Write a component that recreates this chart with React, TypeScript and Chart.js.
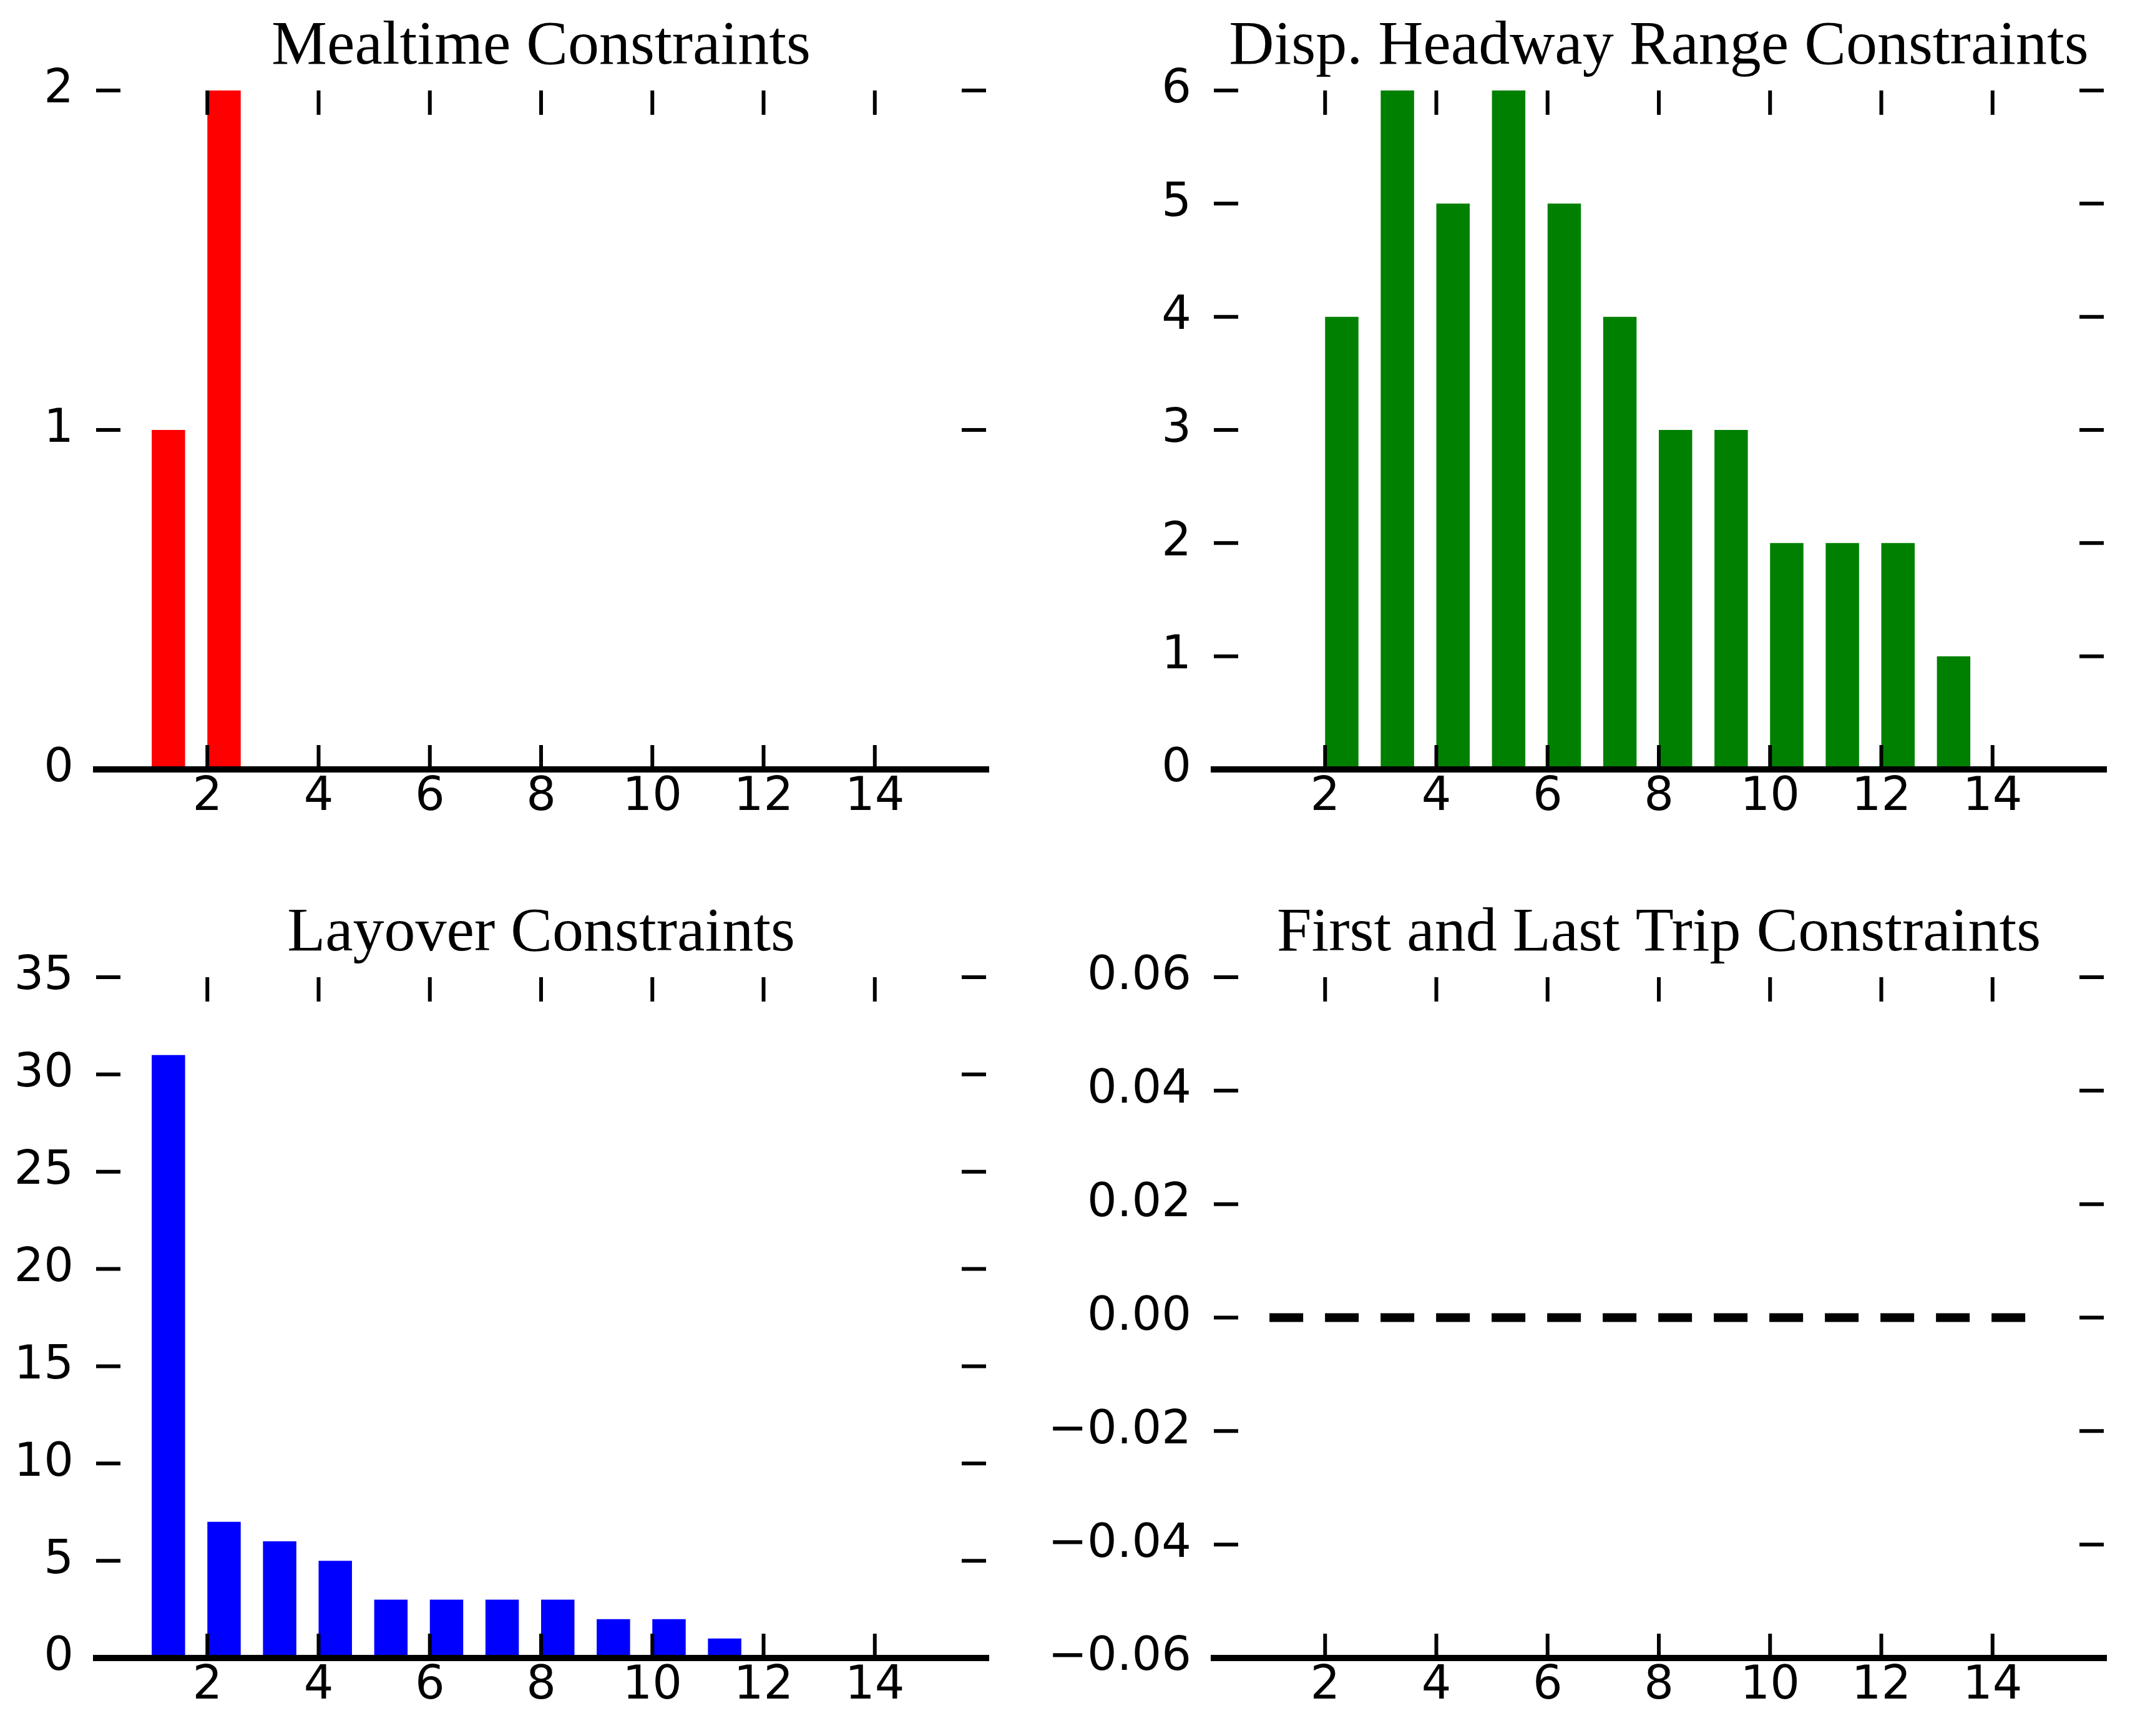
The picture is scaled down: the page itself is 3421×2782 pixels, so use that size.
import React, { useEffect, useRef } from "react";
import { Chart, registerables } from "chart.js";

Chart.register(...registerables);

// ---------------- data ----------------
const binWidth = 0.6;
const xTickValues = [2, 4, 6, 8, 10, 12, 14];
const xMin = 0;
const xMax = 16;

const mealtimeBins = [1, 2];
const mealtimeCounts = [1, 2];
const mealtimeYTicks = [0, 1, 2];

const headwayBins = [2, 3, 4, 5, 6, 7, 8, 9, 10, 11, 12, 13];
const headwayCounts = [4, 6, 5, 6, 5, 4, 3, 3, 2, 2, 2, 1];
const headwayYTicks = [0, 1, 2, 3, 4, 5, 6];

const layoverBins = [1, 2, 3, 4, 5, 6, 7, 8, 9, 10, 11];
const layoverCounts = [31, 7, 6, 5, 3, 3, 3, 3, 2, 2, 1];
const layoverYTicks = [0, 5, 10, 15, 20, 25, 30, 35];

const firstLastBins = [1, 2, 3, 4, 5, 6, 7, 8, 9, 10, 11, 12, 13, 14];
const firstLastCounts = [0, 0, 0, 0, 0, 0, 0, 0, 0, 0, 0, 0, 0, 0];
const firstLastYTicks = [-0.06, -0.04, -0.02, 0, 0.02, 0.04, 0.06];

// ---------------- style ----------------
const TICK_FONT = { family: "'DejaVu Sans', sans-serif", size: 75, weight: "normal" as const };
const TITLE_FONT = { family: "'Liberation Serif', serif", size: 100, weight: "normal" as const, lineHeight: 1 };
const TICK_LEN = 39;
const TICK_W = 6;
const SPINE_W = 10;
const X_AXIS_H = 120;

const mplAxes = {
  id: "mplAxes",
  afterDatasetsDraw(chart: any, _args: any, opts: any) {
    const { ctx, chartArea } = chart;
    const { left, right, top, bottom } = chartArea;
    const xs = chart.scales.x;
    const ys = chart.scales.y;
    ctx.save();
    ctx.strokeStyle = "#000";
    ctx.lineCap = "butt";
    ctx.lineWidth = TICK_W;
    ctx.beginPath();
    for (const v of opts.xTicks) {
      const px = xs.getPixelForValue(v);
      ctx.moveTo(px, top);
      ctx.lineTo(px, top + TICK_LEN);
      ctx.moveTo(px, bottom);
      ctx.lineTo(px, bottom - TICK_LEN);
    }
    for (const v of opts.yTicks) {
      const py = ys.getPixelForValue(v);
      ctx.moveTo(left, py);
      ctx.lineTo(left + TICK_LEN, py);
      ctx.moveTo(right, py);
      ctx.lineTo(right - TICK_LEN, py);
    }
    ctx.stroke();
    ctx.lineWidth = SPINE_W;
    ctx.beginPath();
    ctx.moveTo(left - SPINE_W / 2, bottom);
    ctx.lineTo(right + SPINE_W / 2, bottom);
    ctx.stroke();
    ctx.restore();
  },
};

type PanelSpec = {
  title: string;
  kind: "bar" | "line";
  bins: number[];
  counts: number[];
  color: string;
  yTicks: number[];
  yFormat: (v: number) => string;
  left: number;
  top: number;
  width: number;
  height: number;
  yAxisWidth: number;
  padRight: number;
};

const intFmt = (v: number) => String(v);
const decFmt = (v: number) => (Math.abs(v) < 1e-9 ? "0.00" : v.toFixed(2).replace("-", "\u2212"));

const panels: PanelSpec[] = [
  {
    title: "Mealtime Constraints", kind: "bar", bins: mealtimeBins, counts: mealtimeCounts, color: "#ff0000",
    yTicks: mealtimeYTicks, yFormat: intFmt,
    left: 0, top: 0, width: 1700, height: 1233 + X_AXIS_H, yAxisWidth: 154, padRight: 120,
  },
  {
    title: "Disp. Headway Range Constraints", kind: "bar", bins: headwayBins, counts: headwayCounts, color: "#008000",
    yTicks: headwayYTicks, yFormat: intFmt,
    left: 1600, top: 0, width: 1821, height: 1233 + X_AXIS_H, yAxisWidth: 345, padRight: 50,
  },
  {
    title: "Layover Constraints", kind: "bar", bins: layoverBins, counts: layoverCounts, color: "#0000ff",
    yTicks: layoverYTicks, yFormat: intFmt,
    left: 0, top: 1421, width: 1700, height: 1236 + X_AXIS_H, yAxisWidth: 154, padRight: 120,
  },
  {
    title: "First and Last Trip Constraints", kind: "line", bins: firstLastBins, counts: firstLastCounts, color: "#000000",
    yTicks: firstLastYTicks, yFormat: decFmt,
    left: 1600, top: 1421, width: 1821, height: 1236 + X_AXIS_H, yAxisWidth: 345, padRight: 50,
  },
];

function Panel({ spec }: { spec: PanelSpec }) {
  const ref = useRef<HTMLCanvasElement | null>(null);
  useEffect(() => {
    if (!ref.current) return;
    const yMin = spec.yTicks[0];
    const yMax = spec.yTicks[spec.yTicks.length - 1];
    let datasets: any[];
    if (spec.kind === "bar") {
      datasets = [
        {
          type: "bar",
          data: spec.bins.map((b, i) => ({ x: b + binWidth / 2, y: spec.counts[i] })),
          backgroundColor: spec.color,
          borderWidth: 0,
          categoryPercentage: binWidth,
          barPercentage: 1,
        },
      ];
    } else {
      const pts: { x: number; y: number }[] = [];
      spec.bins.forEach((b, i) => {
        pts.push({ x: b, y: spec.counts[i] });
        pts.push({ x: b + binWidth, y: spec.counts[i] });
      });
      datasets = [
        {
          type: "line",
          data: pts,
          borderColor: spec.color,
          borderWidth: 14,
          borderDash: [54, 35],
          borderCapStyle: "butt",
          pointRadius: 0,
          tension: 0,
          fill: false,
        },
      ];
    }
    const chart = new Chart(ref.current, {
      type: spec.kind,
      data: { datasets },
      plugins: [mplAxes],
      options: {
        responsive: false,
        maintainAspectRatio: false,
        animation: false,
        devicePixelRatio: 1,
        events: [],
        layout: { padding: { left: 0, right: spec.padRight, top: 0, bottom: 0 } },
        plugins: {
          legend: { display: false },
          tooltip: { enabled: false },
          title: {
            display: true,
            text: spec.title,
            fullSize: false,
            align: "center",
            color: "#000",
            font: TITLE_FONT,
            padding: { top: 26, bottom: 19 },
          },
          mplAxes: { xTicks: xTickValues, yTicks: spec.yTicks },
        } as any,
        scales: {
          x: {
            type: "linear",
            min: xMin,
            max: xMax,
            offset: false,
            grid: { display: false, drawTicks: false, offset: false },
            border: { display: false },
            afterBuildTicks: (s: any) => {
              s.ticks = xTickValues.map((v) => ({ value: v }));
            },
            afterFit: (s: any) => {
              s.height = X_AXIS_H;
            },
            ticks: {
              autoSkip: false,
              maxRotation: 0,
              minRotation: 0,
              padding: 1,
              color: "#000",
              font: TICK_FONT,
              callback: (v: any) => String(v),
            },
          },
          y: {
            type: "linear",
            min: yMin,
            max: yMax,
            grid: { display: false, drawTicks: false },
            border: { display: false },
            afterBuildTicks: (s: any) => {
              s.ticks = spec.yTicks.map((v) => ({ value: v }));
            },
            afterFit: (s: any) => {
              s.width = spec.yAxisWidth;
            },
            ticks: {
              autoSkip: false,
              padding: 36,
              labelOffset: 0,
              color: "#000",
              font: TICK_FONT,
              callback: (v: any) => spec.yFormat(Number(v)),
            },
          },
        },
      } as any,
    });
    return () => chart.destroy();
  }, [spec]);
  return (
    <canvas
      ref={ref}
      width={spec.width}
      height={spec.height}
      style={{ position: "absolute", left: spec.left, top: spec.top, width: spec.width, height: spec.height }}
    />
  );
}

export default function App() {
  return (
    <div
      style={{
        position: "absolute",
        left: 0,
        top: 0,
        width: 3421,
        height: 2782,
        background: "#ffffff",
        overflow: "hidden",
      }}
    >
      {panels.map((p) => (
        <Panel key={p.title} spec={p} />
      ))}
    </div>
  );
}
